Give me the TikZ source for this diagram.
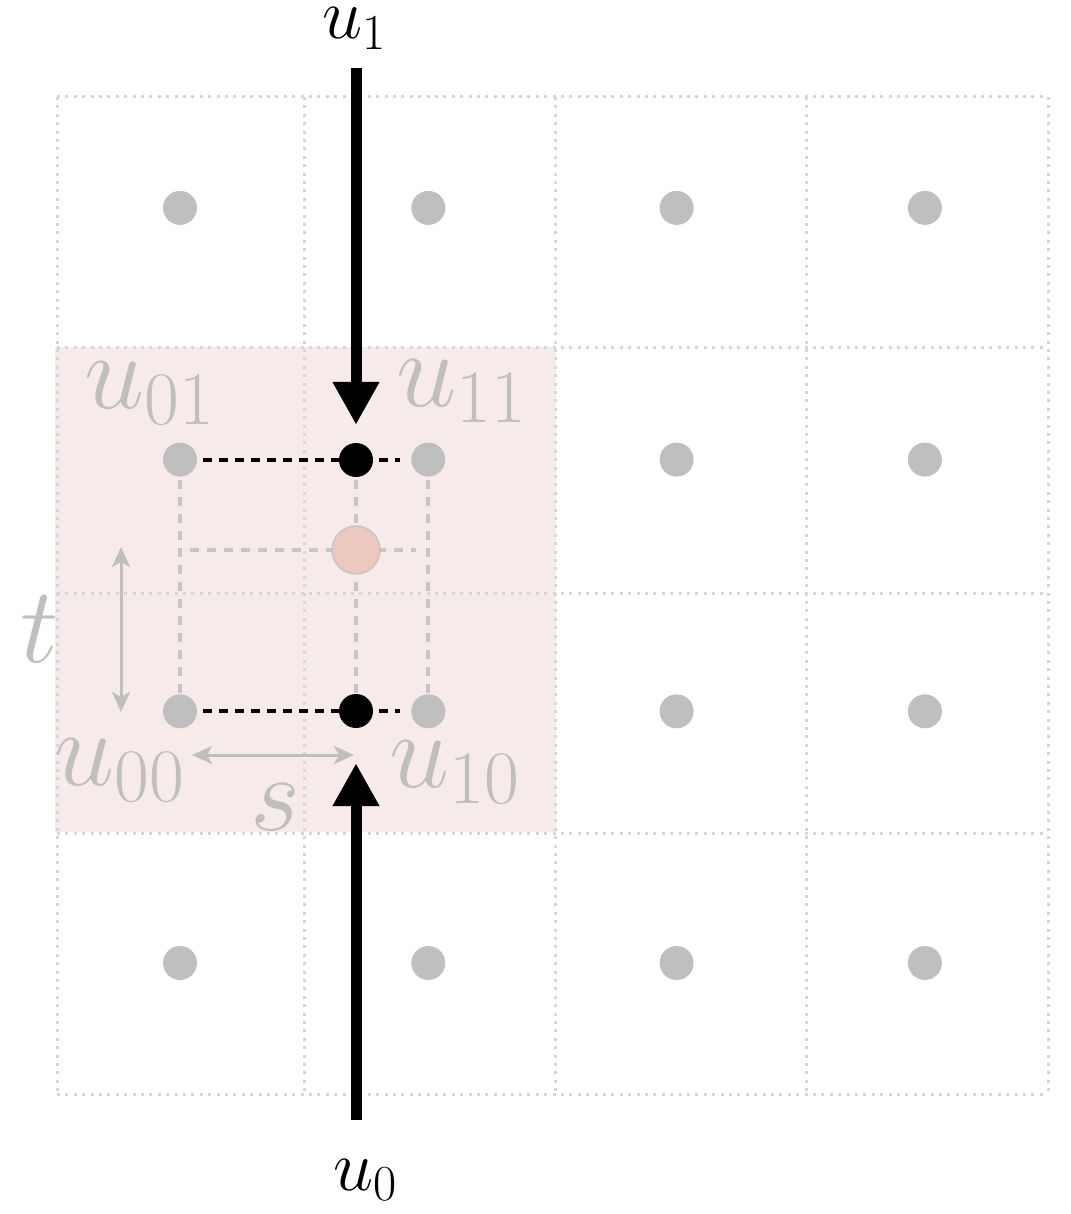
\RequirePackage{fix-cm}
\documentclass[tikz,border=0pt]{standalone}
\usepackage{amsmath}
\usepackage{tikz}
\usepackage{xcolor}
\usetikzlibrary{arrows.meta}
\usetikzlibrary{positioning}
\definecolor{dotgray}{RGB}{191,191,191}
\definecolor{gridgray}{RGB}{214,214,214}
\definecolor{dashgray}{RGB}{198,198,198}
\definecolor{cellpink}{RGB}{246,235,233}
\definecolor{samplepink}{RGB}{237,200,190}
\tikzset{grid node/.style={circle,fill=dotgray,minimum size=34pt,inner sep=0pt},}
\tikzset{query node/.style={circle,fill=black,minimum size=34pt,inner sep=0pt},}
\tikzset{sample node/.style={circle,fill=samplepink,draw=dashgray,line width=1.5pt,minimum size=48pt,inner sep=0pt},}
\tikzset{grid line/.style={gridgray,line width=3pt,dash pattern=on 3pt off 5.4pt},}
\tikzset{black dash/.style={black,line width=4pt,dash pattern=on 9pt off 7pt},}
\tikzset{gray dash/.style={dashgray,line width=4pt,dash pattern=on 9pt off 8pt},}
\tikzset{big arrow/.style={-{Triangle[length=43pt,width=44pt]},line width=11pt},}
\tikzset{dim arrow/.style={{Stealth[length=20pt,width=18pt,inset=5pt]}-{Stealth[length=20pt,width=18pt,inset=5pt]},dotgray,line width=3pt},}
\tikzset{gray label/.style={text=dotgray,inner sep=0pt,anchor=base west,font=\fontsize{108}{118}\selectfont},}
\tikzset{main label/.style={text=black,inner sep=0pt,anchor=base west,font=\fontsize{72}{80}\selectfont},}

\begin{document}
\begin{tikzpicture}[x=1pt,y=-1pt]
\useasboundingbox (0,0) rectangle (1070,1214);

 % cell of the four neighbours
 \fill[cellpink] (55,347) rectangle (556,832);
 \foreach \x in {57,304,555,806,1048} \draw[grid line] (\x,97) -- (\x,1094);
 \foreach \y in {97,347,593,833,1094} \draw[grid line] (57,\y) -- (1048,\y);

 \foreach \i in {0,...,3}
   \foreach \j in {0,...,3}
     \node[grid node] (c\i\j) at ({180+248.3*\i},{963-251.7*\j}) {};

     \path[draw]    (c02) edge [black dash,shorten <=6pt,shorten >=11pt] (c12);
     \path[draw]    (c01) edge [black dash,shorten <=6pt,shorten >=11pt] (c11);

    \node[query node] (q1) at (356,460) {};
    \node[query node] (q0) at (356,711) {};

     \path[draw]    (c02) edge [gray dash,shorten <=3pt] (c01);
     \path[draw]    (c12) edge [gray dash,shorten <=3pt] (c11);
     \path[draw]    (q1) edge [gray dash,shorten <=3pt] (q0);
 \coordinate (h0) at (190,550);
 \coordinate (h1) at (416,550);
     \path[draw]    (h0) edge [gray dash] (h1);

    \node[sample node] (p) at (356,550) {};

 % interpolation in u
 \coordinate (a1) at (356,68);
 \coordinate (a0) at (356,1120);
     \path[draw]    (a1) edge [big arrow,shorten >=18pt] (q1);
     \path[draw]    (a0) edge [big arrow,shorten >=35pt] (q0);

 \coordinate (t0) at (121,547);
 \coordinate (t1) at (121,712);
 \coordinate (s0) at (192,755);
 \coordinate (s1) at (354,755);
     \path[draw]    (t0) edge [dim arrow] (t1);
     \path[draw]    (s0) edge [dim arrow] (s1);

 \node[gray label] (l01) at (84,408) {$u_{01}$};
 \node[gray label] (l11) at (396,406) {$u_{11}$};
 \node[gray label] (l00) at (54,785) {$u_{00}$};
 \node[gray label] (l10) at (389,787) {$u_{10}$};
 \node[gray label] (lt) at (20,662) {$t$};
 \node[gray label] (ls) at (250,830) {$s$};

 \node[main label] (lu1) at (322,39) {$u_1$};
 \node[main label] (lu0) at (333,1190) {$u_0$};
\end{tikzpicture}
\end{document}
